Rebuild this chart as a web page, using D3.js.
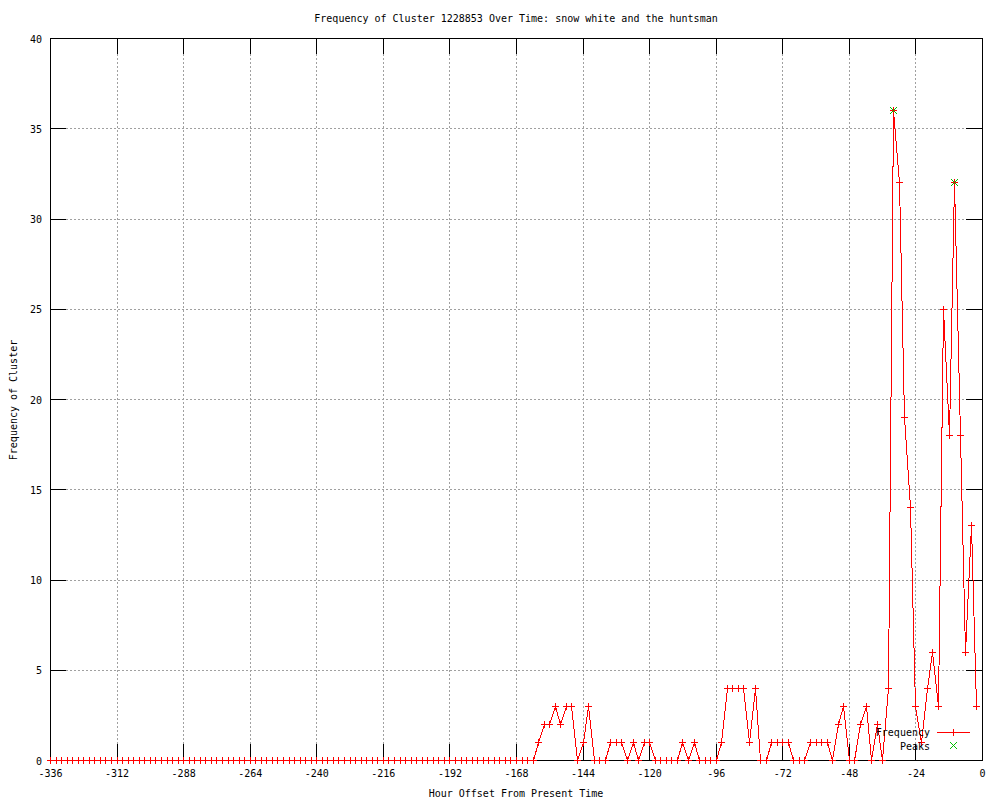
<!DOCTYPE html>
<html>
<head>
<meta charset="utf-8">
<script src="https://cdn.jsdelivr.net/npm/d3@7"></script>
<style>
  body { margin: 0; background: #fff; }
  svg text { font-family: "DejaVu Sans Mono", "Liberation Mono", monospace; font-size: 10px; fill: #000; }
</style>
</head>
<body>
<svg id="chart"></svg>
<script>
// Frequency of one cluster, sampled every 2 hours from -336 to -2
const hours = d3.range(-336, 0, 2);
const freq = [
  0, 0, 0, 0, 0, 0, 0, 0,
  0, 0, 0, 0, 0, 0, 0, 0,
  0, 0, 0, 0, 0, 0, 0, 0,
  0, 0, 0, 0, 0, 0, 0, 0,
  0, 0, 0, 0, 0, 0, 0, 0,
  0, 0, 0, 0, 0, 0, 0, 0,
  0, 0, 0, 0, 0, 0, 0, 0,
  0, 0, 0, 0, 0, 0, 0, 0,
  0, 0, 0, 0, 0, 0, 0, 0,
  0, 0, 0, 0, 0, 0, 0, 0,
  0, 0, 0, 0, 0, 0, 0, 0,
  1, 2, 2, 3, 2, 3, 3, 0,
  1, 3, 0, 0, 0, 1, 1, 1,
  0, 1, 0, 1, 1, 0, 0, 0,
  0, 0, 1, 0, 1, 0, 0, 0,
  0, 1, 4, 4, 4, 4, 1, 4,
  0, 0, 1, 1, 1, 1, 0, 0,
  0, 1, 1, 1, 1, 0, 2, 3,
  0, 0, 2, 3, 0, 2, 0, 4,
  36, 32, 19, 14, 3, 1, 4, 6,
  3, 25, 18, 32, 18, 6, 13, 3
];
const peakHours = [-32, -10];
const peakValues = [36, 32];

const xTicks = [-336, -312, -288, -264, -240, -216, -192, -168, -144, -120, -96, -72, -48, -24, 0];
const yTicks = [0, 5, 10, 15, 20, 25, 30, 35, 40];

const W = 1000, H = 800;
const L = 50, R = 982, T = 38, B = 760;
const TICK = 16;

const svg = d3.select("#chart").attr("width", W).attr("height", H);
svg.append("rect").attr("width", W).attr("height", H).attr("fill", "#fff");

const x = d3.scaleLinear().domain([-336, 0]).range([L + 0.5, R + 0.5]);
const y = d3.scaleLinear().domain([0, 40]).range([B + 0.5, T + 0.5]);
const px = v => Math.round(v - 0.5) + 0.5;

const g = svg.append("g").attr("shape-rendering", "crispEdges");

// Grid (dotted grey)
g.selectAll(".gx").data(xTicks.slice(1, -1)).join("line")
  .attr("x1", d => px(x(d))).attr("x2", d => px(x(d))).attr("y1", T).attr("y2", B)
  .attr("stroke", "#a0a0a0").attr("stroke-dasharray", "2,2");
g.selectAll(".gy").data(yTicks.slice(1, -1)).join("line")
  .attr("x1", L).attr("x2", R).attr("y1", d => px(y(d))).attr("y2", d => px(y(d)))
  .attr("stroke", "#a0a0a0").attr("stroke-dasharray", "2,2");

// Inward ticks on all four sides
const ticks = g.append("g").attr("stroke", "#000");
xTicks.forEach(d => {
  ticks.append("line").attr("x1", px(x(d))).attr("x2", px(x(d))).attr("y1", B).attr("y2", B - TICK);
  ticks.append("line").attr("x1", px(x(d))).attr("x2", px(x(d))).attr("y1", T).attr("y2", T + TICK);
});
yTicks.forEach(d => {
  ticks.append("line").attr("x1", L).attr("x2", L + TICK).attr("y1", px(y(d))).attr("y2", px(y(d)));
  ticks.append("line").attr("x1", R).attr("x2", R - TICK).attr("y1", px(y(d))).attr("y2", px(y(d)));
});

// Tick labels
svg.selectAll(".xl").data(xTicks).join("text")
  .attr("x", d => x(d)).attr("y", 777).attr("text-anchor", "middle").text(d => d);
svg.selectAll(".yl").data(yTicks).join("text")
  .attr("x", 42).attr("y", d => y(d) + 4).attr("text-anchor", "end").text(d => d);

// Data line with + markers (aliased, like the gnuplot png terminal)
const pts = hours.map((h, i) => ({ h, v: freq[i] }));
const line = d3.line().x(d => px(x(d.h))).y(d => px(y(d.v)));
svg.append("path").datum(pts).attr("d", line)
  .attr("fill", "none").attr("stroke", "#ff0000").attr("stroke-width", 1)
  .attr("shape-rendering", "crispEdges");
const plus = (cx, cy, s) => `M${cx - s},${cy}H${cx + s}M${cx},${cy - s}V${cy + s}`;
svg.append("path")
  .attr("d", pts.map(d => plus(px(x(d.h)), px(y(d.v)), 3.5)).join(""))
  .attr("fill", "none").attr("stroke", "#ff0000").attr("shape-rendering", "crispEdges");

// Peaks (green x)
const cross = (cx, cy, s) => `M${cx - s},${cy - s}L${cx + s},${cy + s}M${cx - s},${cy + s}L${cx + s},${cy - s}`;
svg.append("path")
  .attr("d", peakHours.map((h, i) => cross(px(x(h)), px(y(peakValues[i])), 3.5)).join(""))
  .attr("fill", "none").attr("stroke", "#00c000").attr("shape-rendering", "crispEdges");

// Border
g.append("rect").attr("x", L + 0.5).attr("y", T + 0.5).attr("width", R - L).attr("height", B - T)
  .attr("fill", "none").attr("stroke", "#000");

// Key
svg.append("text").attr("x", 930).attr("y", 736).attr("text-anchor", "end").text("Frequency");
svg.append("text").attr("x", 930).attr("y", 750).attr("text-anchor", "end").text("Peaks");
svg.append("line").attr("x1", 937).attr("x2", 970).attr("y1", 732.5).attr("y2", 732.5)
  .attr("stroke", "#ff0000").attr("shape-rendering", "crispEdges");
svg.append("path").attr("d", plus(953.5, 732.5, 3.5)).attr("stroke", "#ff0000").attr("shape-rendering", "crispEdges");
svg.append("path").attr("d", cross(953.5, 745.5, 3.5)).attr("fill", "none").attr("stroke", "#00c000")
  .attr("shape-rendering", "crispEdges");

// Titles
svg.append("text").attr("x", 516).attr("y", 22).attr("text-anchor", "middle")
  .text("Frequency of Cluster 1228853 Over Time: snow white and the huntsman");
svg.append("text").attr("x", 516).attr("y", 797).attr("text-anchor", "middle")
  .text("Hour Offset From Present Time");
svg.append("text").attr("transform", "translate(17,400) rotate(-90)").attr("text-anchor", "middle")
  .text("Frequency of Cluster");
</script>
</body>
</html>
